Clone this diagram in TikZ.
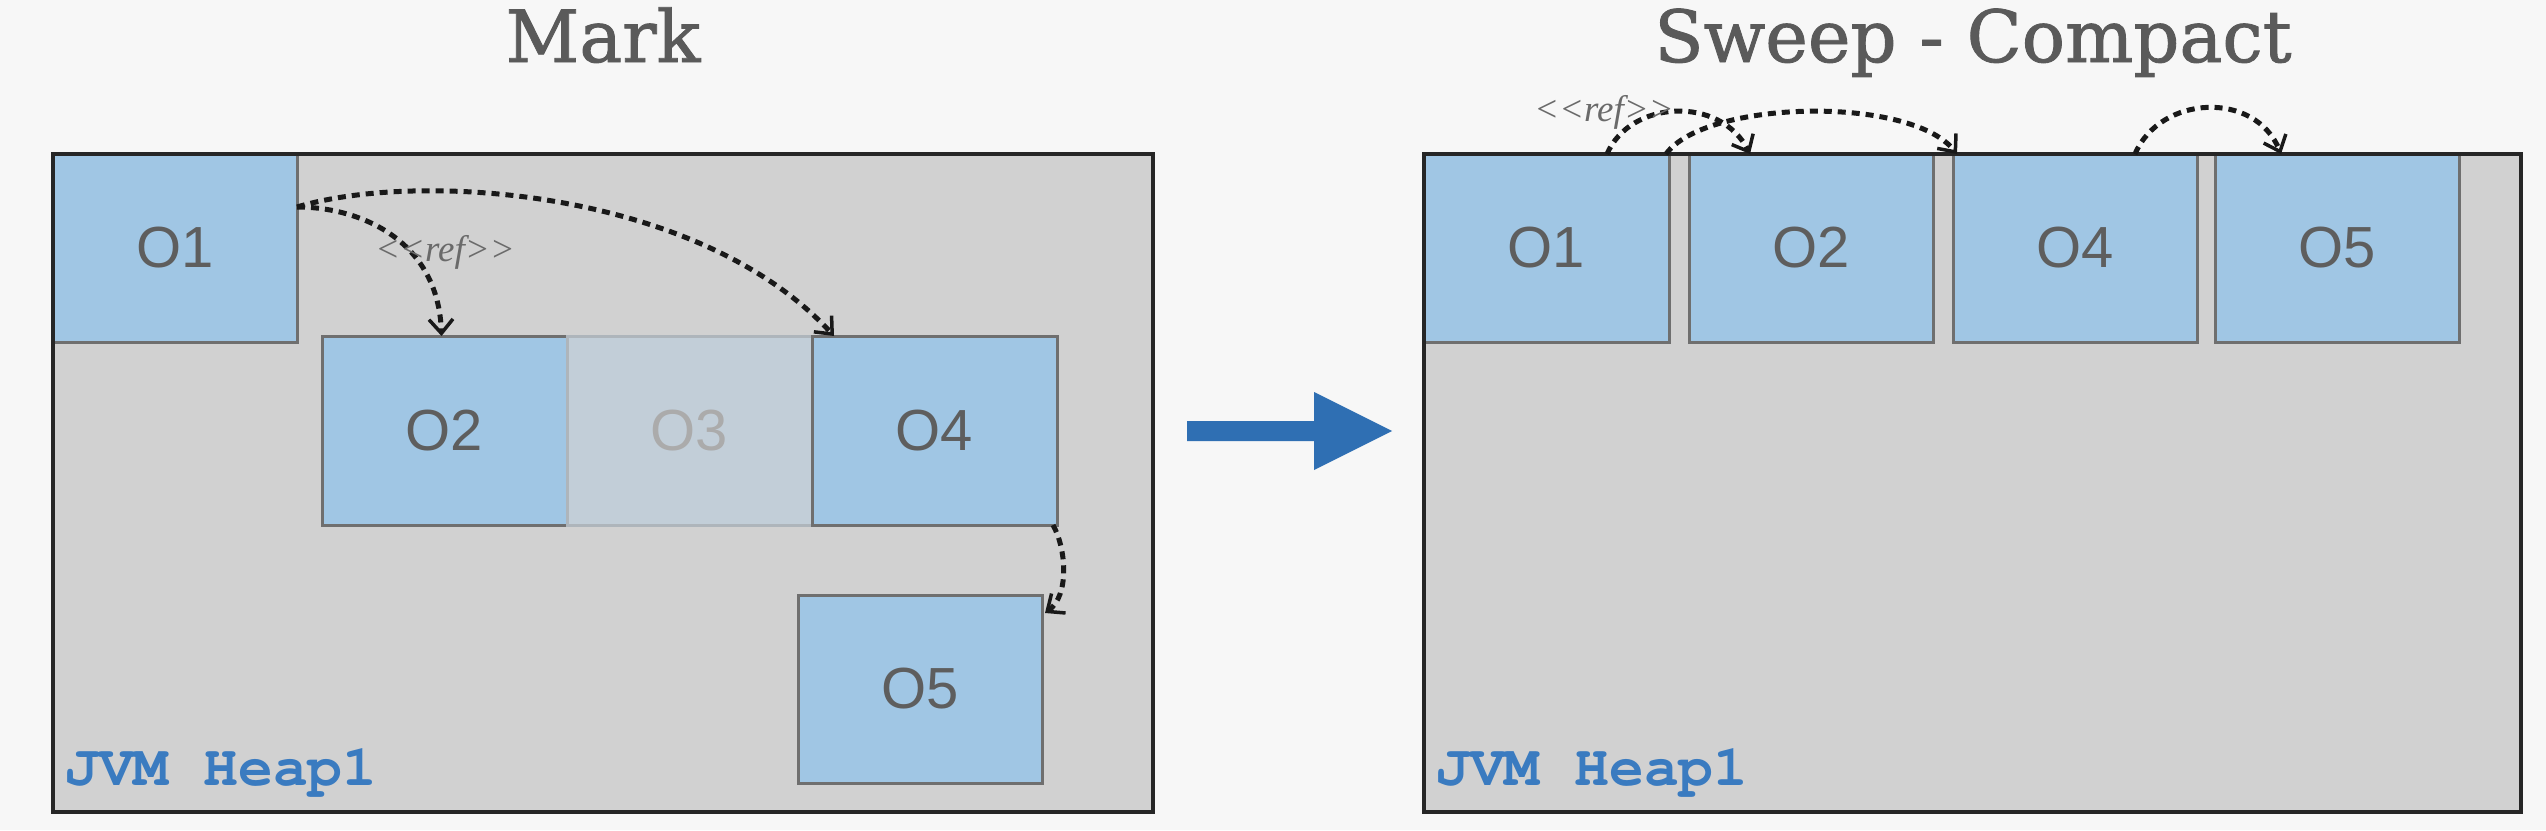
\documentclass[tikz,border=0pt]{standalone}
\usepackage{fontspec}
\usetikzlibrary{arrows.meta,calc}
\newfontfamily\titlefont{DejaVu Serif}[FakeBold=1.2]
\newfontfamily\objfont{Liberation Sans}
\newfontfamily\heapfont{TeX Gyre Cursor}
\newfontfamily\reffont{Liberation Serif}
\definecolor{bg}{HTML}{F7F7F7}
\definecolor{heapfill}{HTML}{D1D1D1}
\definecolor{objfill}{HTML}{A0C6E4}
\definecolor{objline}{HTML}{6F6F6F}
\definecolor{deadfill}{HTML}{C2CED8}
\definecolor{deadline}{HTML}{AEB5BB}
\definecolor{labelgray}{HTML}{5E5E5E}
\definecolor{deadtext}{HTML}{ABABAB}
\definecolor{titlegray}{HTML}{5A5A5A}
\definecolor{heapblue}{HTML}{3A7BC0}
\definecolor{bigblue}{HTML}{2F6FB3}
\definecolor{refgray}{HTML}{6A6A6A}
\begin{document}
\begin{tikzpicture}[x=1pt,y=-1pt,
  heapbox/.style={draw=none, fill=heapfill, inner sep=0pt, outer sep=0pt},
  heapframe/.style={draw=black!85, line width=3.5pt},
  obj/.style={draw=objline, fill=objfill, line width=3pt, inner sep=0pt, outer sep=0pt,
    minimum width=244pt, minimum height=188pt, text=labelgray,
    font=\objfont\fontsize{58}{60}\selectfont},
  deadobj/.style={obj, draw=deadline, fill=deadfill, text=deadtext},
  titletext/.style={anchor=base, text=titlegray, font=\titlefont\fontsize{72}{80}\selectfont},
  heaplabel/.style={anchor=base west, inner sep=0pt, text=heapblue,
    font=\heapfont\bfseries\fontsize{58}{64}\selectfont},
  reflabel/.style={inner sep=0pt, text=refgray, font=\reffont\itshape\fontsize{37}{40}\selectfont},
  refarrow/.style={draw=black!90, line width=5pt, dash pattern=on 8pt off 6pt,
    -{Straight Barb[length=14pt,width=24pt,line width=3.5pt]}}
]
% background
\path[use as bounding box, fill=bg] (0,0) rectangle (2546,830);

% titles
\node[titletext] (tmark) at (603,62) {Mark};
\node[titletext] (tsweep) at (1973,62) {Sweep - Compact};

% heaps
\node[heapbox, minimum width=1100pt, minimum height=658pt] (LH) at (603,483) {};
\node[heapbox, minimum width=1097pt, minimum height=658pt] (RH) at (1972.5,483) {};

% left objects
\node[obj] (L1) at (175,248) {O1};
\node[obj, minimum width=245pt, minimum height=189pt] (L2) at (444.5,430.5) {O2};
\node[deadobj, minimum width=245pt, minimum height=189pt] (L3) at (689.5,430.5) {O3};
\node[obj, minimum width=245pt, minimum height=189pt] (L4) at (934.5,430.5) {O4};
\node[obj] (L5) at (920,689) {O5};

% right objects
\node[obj, minimum width=245pt] (R1) at (1546.5,248) {O1};
\node[obj] (R2) at (1811,248) {O2};
\node[obj] (R4) at (2075,248) {O4};
\node[obj] (R5) at (2337,248) {O5};

% heap frames
\draw[heapframe] (LH.north west) rectangle (LH.south east);
\draw[heapframe] (RH.north west) rectangle (RH.south east);

% heap labels
\node[heaplabel] (LHL) at (64,785) {JVM Heap1};
\node[heaplabel] (RHL) at (1435,785) {JVM Heap1};

% left references
\draw[refarrow] ($(L1.north east)+(0,53)$) .. controls +(63,0) and +(-3,-96) .. ($(L2.north)+(-3,0)$);
\draw[refarrow] ($(L1.north east)+(0,53)$) .. controls +(123,-37) and +(-134,-146) .. ($(L4.north west)+(22,0)$);
\draw[refarrow] ($(L4.south east)+(-4,0)$) .. controls +(13,23) and +(25,-18) .. ($(L5.north east)+(3,18)$);
\node[reflabel] (lref) at (445,252) {<<ref>>};

% right references
\draw[refarrow] ($(R1.north east)+(-62,0)$) .. controls +(23,-54) and +(-30,-59) .. ($(R2.north west)+(61,0)$);
\draw[refarrow] ($(R1.north east)+(-3,0)$) .. controls +(39,-54) and +(-47,-59) .. ($(R4.north west)+(4,0)$);
\draw[refarrow] ($(R4.north east)+(-62,0)$) .. controls +(25,-59) and +(-26,-64) .. ($(R5.north west)+(66,0)$);
\node[reflabel] (rref) at (1604,112) {<<ref>>};

% big arrow
\fill[bigblue] (1187,421) -- (1314,421) -- (1314,392) -- (1392,431) -- (1314,470) -- (1314,441) -- (1187,441) -- cycle;
\end{tikzpicture}
\end{document}
